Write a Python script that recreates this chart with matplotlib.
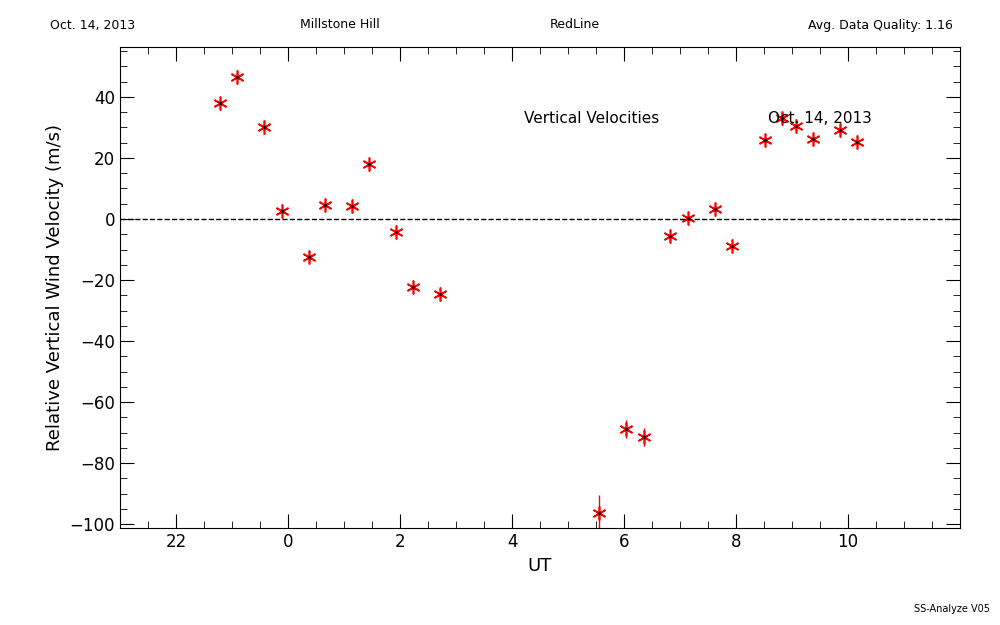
import matplotlib
matplotlib.use("Agg")
import matplotlib.pyplot as plt
from matplotlib.ticker import MultipleLocator, FuncFormatter, FixedLocator

ut = [-1.21, -0.91, -0.43, -0.11, 0.375, 0.66, 1.14, 1.45, 1.93, 2.23, 2.71,
      5.55, 6.04, 6.36, 6.82, 7.14, 7.63, 7.93, 8.52, 8.82, 9.07, 9.38, 9.86, 10.16]
vel = [38.0, 46.6, 30.2, 2.6, -12.5, 4.6, 4.3, 18.0, -4.3, -22.3, -24.6,
       -96.4, -68.9, -71.5, -5.6, 0.3, 3.3, -8.9, 25.9, 33.1, 30.5, 26.2, 29.2, 25.2]
err = [0.8, 0.8, 0.8, 0.8, 0.8, 0.8, 0.8, 0.8, 0.8, 0.8, 0.8,
       6.0, 3.0, 3.0, 0.8, 0.8, 0.8, 0.8, 0.8, 0.8, 0.8, 0.8, 0.8, 0.8]
xticks = [-2, 0, 2, 4, 6, 8, 10]

fig = plt.figure(figsize=(10, 6.25), dpi=100)
ax = fig.add_axes([0.12, 0.155, 0.84, 0.77])
ax.errorbar(ut, vel, yerr=err, fmt='none', ecolor='red', elinewidth=1)
ax.plot(ut, vel, linestyle='none', marker=(6, 2, 0), color='red', markersize=10, mew=1.2)
ax.plot(ut, vel, linestyle='none', marker='o', color='black', markersize=1.2)
ax.axhline(0, color='black', linestyle='--', linewidth=1)
ax.set_xlim(-3, 12)
ax.set_ylim(-101.3, 56.4)
ax.xaxis.set_major_locator(FixedLocator(xticks))
ax.xaxis.set_minor_locator(MultipleLocator(0.5))
ax.yaxis.set_major_locator(MultipleLocator(20))
ax.yaxis.set_minor_locator(MultipleLocator(5))
ax.xaxis.set_major_formatter(FuncFormatter(lambda v, p: f"{int(round(v)) % 24}"))
ax.yaxis.set_major_formatter(FuncFormatter(lambda v, p: f"{int(round(v))}".replace('-', '\u2212')))
ax.tick_params(which='both', direction='in', top=True, right=True, labelsize=12)
ax.tick_params(which='major', length=10)
ax.tick_params(which='minor', length=5)
ax.set_xlabel("UT", fontsize=13)
ax.set_ylabel("Relative Vertical Wind Velocity (m/s)", fontsize=13)
ax.text(5.43, 33, "Vertical Velocities", fontsize=11, ha='center', va='center')
ax.text(9.5, 33, "Oct. 14, 2013", fontsize=11, ha='center', va='center')
fig.text(0.05, 0.96, "Oct. 14, 2013", fontsize=9, va='center')
fig.text(0.34, 0.96, "Millstone Hill", fontsize=9, va='center', ha='center')
fig.text(0.575, 0.96, "RedLine", fontsize=9, va='center', ha='center')
fig.text(0.953, 0.96, "Avg. Data Quality: 1.16", fontsize=9, va='center', ha='right')
fig.text(0.99, 0.025, "SS-Analyze V05", fontsize=7, va='center', ha='right')
fig.savefig("out.png")
